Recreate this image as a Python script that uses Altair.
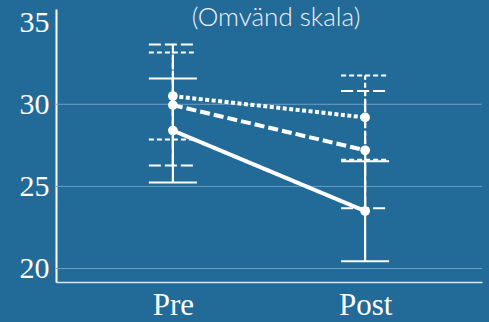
import altair as alt
import pandas as pd

# Mean score per group at two time points, with interval limits
groups = ["Grupp 1", "Grupp 2", "Grupp 3"]
times = ["Pre", "Post"]
mean_pre = [28.4, 29.95, 30.5]
mean_post = [23.5, 27.2, 29.2]
low_pre = [25.23, 26.28, 27.85]
high_pre = [31.57, 33.64, 33.15]
low_post = [20.45, 23.67, 26.63]
high_post = [26.53, 30.81, 31.75]
y_ticks = [20, 25, 30, 35]
grid_values = [20, 25, 30]
subtitle = "(Omvänd skala)"

rows = []
for i, g in enumerate(groups):
    rows.append({"group": g, "time": "Pre", "mean": mean_pre[i], "low": low_pre[i], "high": high_pre[i]})
    rows.append({"group": g, "time": "Post", "mean": mean_post[i], "low": low_post[i], "high": high_post[i]})
df = pd.DataFrame(rows)
grid_df = pd.DataFrame({"v": grid_values})

BG = "#226A97"
WHITE = "#FFFFFF"

x_enc = alt.X(
    "time:N",
    sort=times,
    scale=alt.Scale(type="point", padding=0.608),
    axis=alt.Axis(
        title=None, ticks=False, grid=False, labelAngle=0,
        domainColor="#D8E6F0", domainWidth=1.5,
        labelFont="Liberation Serif", labelFontSize=31, labelColor=WHITE,
        labelPadding=8,
    ),
)
y_scale = alt.Scale(domain=[19.18, 35.8], nice=False, zero=False)
y_axis = alt.Axis(
    title=None, values=y_ticks, grid=False, ticks=False,
    domainColor=WHITE, domainWidth=2,
    labelFont="Liberation Serif", labelFontSize=30, labelColor=WHITE,
    labelPadding=7,
)

line_dash = alt.Scale(domain=groups, range=[[1, 0], [10, 4], [4, 2.5]])
cap_dash = alt.Scale(domain=groups, range=[[1, 0], [12, 4], [5, 3]])

grid = alt.Chart(grid_df).mark_rule(color="#6F9FC6", strokeWidth=1).encode(
    y=alt.Y("v:Q", scale=y_scale, axis=y_axis)
)

whiskers = alt.Chart(df).mark_rule(color=WHITE, strokeWidth=2.2).encode(
    x=x_enc,
    y=alt.Y("low:Q", scale=y_scale, axis=y_axis),
    y2="high:Q",
    strokeDash=alt.StrokeDash("group:N", scale=cap_dash, legend=None),
)

caps_low = alt.Chart(df).mark_rule(color=WHITE, strokeWidth=2, xOffset=-24, x2Offset=24).encode(
    x=x_enc,
    x2=alt.X2("time:N"),
    y=alt.Y("low:Q", scale=y_scale, axis=y_axis),
    strokeDash=alt.StrokeDash("group:N", scale=cap_dash, legend=None),
)
caps_high = alt.Chart(df).mark_rule(color=WHITE, strokeWidth=2, xOffset=-24, x2Offset=24).encode(
    x=x_enc,
    x2=alt.X2("time:N"),
    y=alt.Y("high:Q", scale=y_scale, axis=y_axis),
    strokeDash=alt.StrokeDash("group:N", scale=cap_dash, legend=None),
)

lines = alt.Chart(df).mark_line(color=WHITE, strokeWidth=4, strokeCap="butt").encode(
    x=x_enc,
    y=alt.Y("mean:Q", scale=y_scale, axis=y_axis),
    detail="group:N",
    strokeDash=alt.StrokeDash("group:N", scale=line_dash, legend=None),
)

points = alt.Chart(df).mark_circle(color=WHITE, opacity=1, size=95).encode(
    x=x_enc,
    y=alt.Y("mean:Q", scale=y_scale, axis=y_axis),
)

label = alt.Chart(pd.DataFrame({"t": [subtitle]})).mark_text(
    font="Lato", fontWeight=300, fontSize=26, color="#EEF3F8",
    align="center", baseline="alphabetic",
).encode(text="t:N", x=alt.value(220), y=alt.value(17))

chart = alt.layer(grid, whiskers, caps_low, caps_high, lines, points, label).resolve_scale(
    strokeDash="independent"
).properties(
    width=426,
    height=273,
    padding={"left": 56, "top": 9, "right": 7, "bottom": 40},
    autosize=alt.AutoSizeParams(type="none"),
    background=BG,
).configure_view(stroke=None)

chart.save("out.html", embed_options={"renderer": "svg", "actions": False})
